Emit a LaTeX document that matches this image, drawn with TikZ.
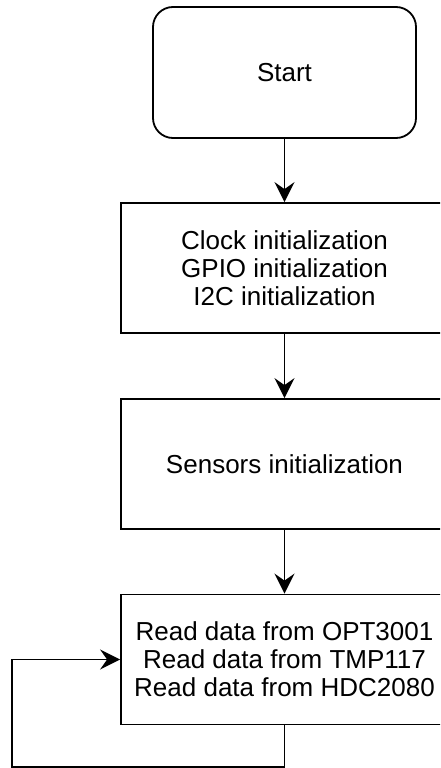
\documentclass[tikz,border=0pt]{standalone}
\usepackage{fontspec}
\setmainfont{Liberation Sans}
\usetikzlibrary{arrows.meta}
\tikzset{
  stepbox/.style={draw, line width=1.8pt, minimum width=327pt, minimum height=130pt,
    align=center, inner sep=0pt, font=\fontsize{26}{28}\selectfont},
  startbox/.style={stepbox, rounded corners=20pt, minimum width=263pt, minimum height=131pt},
  flow/.style={line width=1.8pt, -{Stealth[length=20pt,width=20pt,inset=7pt]}}
}
\begin{document}
\begin{tikzpicture}[x=1pt,y=-1pt]
  \useasboundingbox (0,0) rectangle (440,768);
  \clip (0,0) rectangle (440,768);
  \node[startbox] (start) at (284.5,72.5) {Start};
  \node[stepbox] (init) at (284.5,268) {Clock initialization\\GPIO initialization\\I2C initialization};
  \node[stepbox] (sensors) at (284.5,464) {Sensors initialization};
  \node[stepbox] (read) at (284.5,659.5) {Read data from OPT3001\\Read data from TMP117\\Read data from HDC2080};
  \coordinate (loopend) at (12,767);
  \draw[flow] (start) -- (init);
  \draw[flow] (init) -- (sensors);
  \draw[flow] (sensors) -- (read);
  % loop back into the read box
  \draw[flow] (read.south) |- (loopend) |- (read.west);
\end{tikzpicture}
\end{document}
